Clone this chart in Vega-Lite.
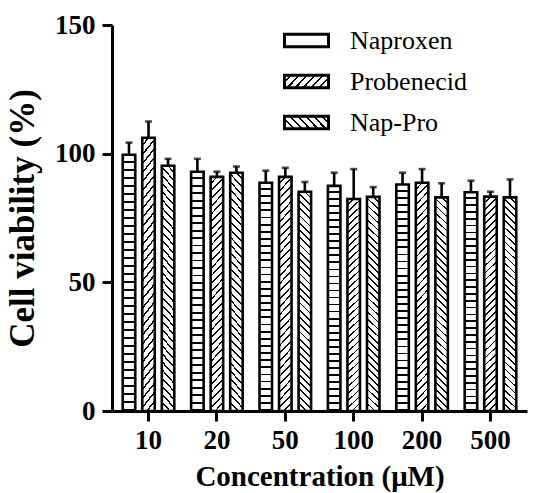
{
  "$schema": "https://vega.github.io/schema/vega-lite/v6.json",
  "width": 415,
  "height": 386,
  "autosize": {"type": "none"},
  "padding": {"left": 112, "top": 25, "right": 6, "bottom": 82},
  "background": "white",
  "config": {"view": {"stroke": null}, "font": "Liberation Serif"},
  "params": [
    {"name": "st", "value": [
      {"offset":0,"color":"#fff"},{"offset":0.0234375,"color":"#fff"},{"offset":0.0234375,"color":"#000"},{"offset":0.03125,"color":"#000"},
      {"offset":0.03125,"color":"#fff"},{"offset":0.0546875,"color":"#fff"},{"offset":0.0546875,"color":"#000"},{"offset":0.0625,"color":"#000"},
      {"offset":0.0625,"color":"#fff"},{"offset":0.0859375,"color":"#fff"},{"offset":0.0859375,"color":"#000"},{"offset":0.09375,"color":"#000"},
      {"offset":0.09375,"color":"#fff"},{"offset":0.1171875,"color":"#fff"},{"offset":0.1171875,"color":"#000"},{"offset":0.125,"color":"#000"},
      {"offset":0.125,"color":"#fff"},{"offset":0.1484375,"color":"#fff"},{"offset":0.1484375,"color":"#000"},{"offset":0.15625,"color":"#000"},
      {"offset":0.15625,"color":"#fff"},{"offset":0.1796875,"color":"#fff"},{"offset":0.1796875,"color":"#000"},{"offset":0.1875,"color":"#000"},
      {"offset":0.1875,"color":"#fff"},{"offset":0.2109375,"color":"#fff"},{"offset":0.2109375,"color":"#000"},{"offset":0.21875,"color":"#000"},
      {"offset":0.21875,"color":"#fff"},{"offset":0.2421875,"color":"#fff"},{"offset":0.2421875,"color":"#000"},{"offset":0.25,"color":"#000"},
      {"offset":0.25,"color":"#fff"},{"offset":0.2734375,"color":"#fff"},{"offset":0.2734375,"color":"#000"},{"offset":0.28125,"color":"#000"},
      {"offset":0.28125,"color":"#fff"},{"offset":0.3046875,"color":"#fff"},{"offset":0.3046875,"color":"#000"},{"offset":0.3125,"color":"#000"},
      {"offset":0.3125,"color":"#fff"},{"offset":0.3359375,"color":"#fff"},{"offset":0.3359375,"color":"#000"},{"offset":0.34375,"color":"#000"},
      {"offset":0.34375,"color":"#fff"},{"offset":0.3671875,"color":"#fff"},{"offset":0.3671875,"color":"#000"},{"offset":0.375,"color":"#000"},
      {"offset":0.375,"color":"#fff"},{"offset":0.3984375,"color":"#fff"},{"offset":0.3984375,"color":"#000"},{"offset":0.40625,"color":"#000"},
      {"offset":0.40625,"color":"#fff"},{"offset":0.4296875,"color":"#fff"},{"offset":0.4296875,"color":"#000"},{"offset":0.4375,"color":"#000"},
      {"offset":0.4375,"color":"#fff"},{"offset":0.4609375,"color":"#fff"},{"offset":0.4609375,"color":"#000"},{"offset":0.46875,"color":"#000"},
      {"offset":0.46875,"color":"#fff"},{"offset":0.4921875,"color":"#fff"},{"offset":0.4921875,"color":"#000"},{"offset":0.5,"color":"#000"},
      {"offset":0.5,"color":"#fff"},{"offset":0.5234375,"color":"#fff"},{"offset":0.5234375,"color":"#000"},{"offset":0.53125,"color":"#000"},
      {"offset":0.53125,"color":"#fff"},{"offset":0.5546875,"color":"#fff"},{"offset":0.5546875,"color":"#000"},{"offset":0.5625,"color":"#000"},
      {"offset":0.5625,"color":"#fff"},{"offset":0.5859375,"color":"#fff"},{"offset":0.5859375,"color":"#000"},{"offset":0.59375,"color":"#000"},
      {"offset":0.59375,"color":"#fff"},{"offset":0.6171875,"color":"#fff"},{"offset":0.6171875,"color":"#000"},{"offset":0.625,"color":"#000"},
      {"offset":0.625,"color":"#fff"},{"offset":0.6484375,"color":"#fff"},{"offset":0.6484375,"color":"#000"},{"offset":0.65625,"color":"#000"},
      {"offset":0.65625,"color":"#fff"},{"offset":0.6796875,"color":"#fff"},{"offset":0.6796875,"color":"#000"},{"offset":0.6875,"color":"#000"},
      {"offset":0.6875,"color":"#fff"},{"offset":0.7109375,"color":"#fff"},{"offset":0.7109375,"color":"#000"},{"offset":0.71875,"color":"#000"},
      {"offset":0.71875,"color":"#fff"},{"offset":0.7421875,"color":"#fff"},{"offset":0.7421875,"color":"#000"},{"offset":0.75,"color":"#000"},
      {"offset":0.75,"color":"#fff"},{"offset":0.7734375,"color":"#fff"},{"offset":0.7734375,"color":"#000"},{"offset":0.78125,"color":"#000"},
      {"offset":0.78125,"color":"#fff"},{"offset":0.8046875,"color":"#fff"},{"offset":0.8046875,"color":"#000"},{"offset":0.8125,"color":"#000"},
      {"offset":0.8125,"color":"#fff"},{"offset":0.8359375,"color":"#fff"},{"offset":0.8359375,"color":"#000"},{"offset":0.84375,"color":"#000"},
      {"offset":0.84375,"color":"#fff"},{"offset":0.8671875,"color":"#fff"},{"offset":0.8671875,"color":"#000"},{"offset":0.875,"color":"#000"},
      {"offset":0.875,"color":"#fff"},{"offset":0.8984375,"color":"#fff"},{"offset":0.8984375,"color":"#000"},{"offset":0.90625,"color":"#000"},
      {"offset":0.90625,"color":"#fff"},{"offset":0.9296875,"color":"#fff"},{"offset":0.9296875,"color":"#000"},{"offset":0.9375,"color":"#000"},
      {"offset":0.9375,"color":"#fff"},{"offset":0.9609375,"color":"#fff"},{"offset":0.9609375,"color":"#000"},{"offset":0.96875,"color":"#000"},
      {"offset":0.96875,"color":"#fff"},{"offset":0.9921875,"color":"#fff"},{"offset":0.9921875,"color":"#000"},{"offset":1,"color":"#000"}
    ]},
    {"name": "lst", "value": [
      {"offset":0,"color":"#fff"},{"offset":0.1,"color":"#fff"},{"offset":0.1,"color":"#000"},{"offset":0.142857,"color":"#000"},
      {"offset":0.142857,"color":"#fff"},{"offset":0.242857,"color":"#fff"},{"offset":0.242857,"color":"#000"},{"offset":0.285714,"color":"#000"},
      {"offset":0.285714,"color":"#fff"},{"offset":0.385714,"color":"#fff"},{"offset":0.385714,"color":"#000"},{"offset":0.428571,"color":"#000"},
      {"offset":0.428571,"color":"#fff"},{"offset":0.528571,"color":"#fff"},{"offset":0.528571,"color":"#000"},{"offset":0.571429,"color":"#000"},
      {"offset":0.571429,"color":"#fff"},{"offset":0.671429,"color":"#fff"},{"offset":0.671429,"color":"#000"},{"offset":0.714286,"color":"#000"},
      {"offset":0.714286,"color":"#fff"},{"offset":0.814286,"color":"#fff"},{"offset":0.814286,"color":"#000"},{"offset":0.857143,"color":"#000"},
      {"offset":0.857143,"color":"#fff"},{"offset":0.957143,"color":"#fff"},{"offset":0.957143,"color":"#000"},{"offset":1,"color":"#000"}
    ]}
  ],
  "data": {"values": [
    {"conc": "10", "series": "Naproxen", "value": 99.6, "upper": 104.3},
    {"conc": "10", "series": "Probenecid", "value": 106.2, "upper": 112.5},
    {"conc": "10", "series": "Nap-Pro", "value": 95.3, "upper": 98},
    {"conc": "20", "series": "Naproxen", "value": 93, "upper": 98},
    {"conc": "20", "series": "Probenecid", "value": 91, "upper": 93},
    {"conc": "20", "series": "Nap-Pro", "value": 92.6, "upper": 95},
    {"conc": "50", "series": "Naproxen", "value": 88.7, "upper": 93.4},
    {"conc": "50", "series": "Probenecid", "value": 91, "upper": 94.5},
    {"conc": "50", "series": "Nap-Pro", "value": 85.2, "upper": 89},
    {"conc": "100", "series": "Naproxen", "value": 87.5, "upper": 92.6},
    {"conc": "100", "series": "Probenecid", "value": 82.4, "upper": 94},
    {"conc": "100", "series": "Nap-Pro", "value": 83.2, "upper": 87},
    {"conc": "200", "series": "Naproxen", "value": 88, "upper": 92.6},
    {"conc": "200", "series": "Probenecid", "value": 88.7, "upper": 94},
    {"conc": "200", "series": "Nap-Pro", "value": 83, "upper": 88.5},
    {"conc": "500", "series": "Naproxen", "value": 85, "upper": 89.5},
    {"conc": "500", "series": "Probenecid", "value": 83.3, "upper": 85.2},
    {"conc": "500", "series": "Nap-Pro", "value": 83, "upper": 90}
  ]},
  "encoding": {
    "x": {
      "field": "conc", "type": "ordinal",
      "sort": ["10", "20", "50", "100", "200", "500"],
      "scale": {"paddingInner": 0.246, "paddingOuter": 0.157},
      "axis": {
        "title": "Concentration (μM)", "labelAngle": 0,
        "labelFont": "Liberation Serif", "labelFontWeight": "bold", "labelFontSize": 27, "labelColor": "black", "labelPadding": 6,
        "tickSize": 10, "tickWidth": 3, "tickColor": "black",
        "domainColor": "black", "domainWidth": 3,
        "titleFont": "Liberation Serif", "titleFontSize": 29, "titleFontWeight": "bold", "titleColor": "black", "titlePadding": 9
      }
    },
    "xOffset": {
      "field": "series", "type": "nominal",
      "sort": ["Naproxen", "Probenecid", "Nap-Pro"],
      "scale": {"paddingInner": 0.36, "paddingOuter": 0}
    }
  },
  "layer": [
    {
      "mark": {"type": "bar", "stroke": "black", "strokeWidth": 2.6},
      "encoding": {
        "y": {
          "field": "value", "type": "quantitative",
          "scale": {"domain": [0, 150]},
          "axis": {
            "title": "Cell viability (%)", "values": [0, 50, 100, 150], "grid": false,
            "labelFont": "Liberation Serif", "labelFontWeight": "bold", "labelFontSize": 27, "labelColor": "black", "labelPadding": 7,
            "tickSize": 10, "tickWidth": 3, "tickColor": "black",
            "domainColor": "black", "domainWidth": 3,
            "titleFont": "Liberation Serif", "titleFontSize": 35, "titleFontWeight": "bold", "titleColor": "black", "titlePadding": 14
          }
        },
        "fill": {
          "field": "series", "type": "nominal",
          "sort": ["Naproxen", "Probenecid", "Nap-Pro"],
          "scale": {"range": [
            {"expr": "{gradient: 'linear', x1: 0, y1: 0, x2: 0, y2: 1, stops: st}"},
            {"expr": "{gradient: 'linear', x1: 0, y1: 0, x2: 0.06, y2: 1.054, stops: st}"},
            {"expr": "{gradient: 'linear', x1: 1, y1: 0, x2: 0.94, y2: 1.054, stops: st}"}
          ]},
          "legend": null
        }
      }
    },
    {
      "mark": {"type": "rule", "stroke": "black", "strokeWidth": 2.6},
      "encoding": {
        "y": {"field": "value", "type": "quantitative", "scale": {"domain": [0, 150]}, "title": "Cell viability (%)"},
        "y2": {"field": "upper"}
      }
    },
    {
      "mark": {"type": "tick", "color": "black", "thickness": 2.6, "size": 7},
      "encoding": {
        "y": {"field": "upper", "type": "quantitative", "scale": {"domain": [0, 150]}, "title": "Cell viability (%)"}
      }
    },
    {
      "mark": {"type": "point", "filled": true, "size": 0, "opacity": 1, "shape": "M-1,-0.28H1V0.28H-1Z", "stroke": "black", "strokeWidth": 3},
      "encoding": {
        "y": {"field": "value", "type": "quantitative", "scale": {"domain": [0, 150]}, "title": "Cell viability (%)"},
        "fill": {
          "field": "series", "type": "nominal",
          "sort": ["Naproxen", "Probenecid", "Nap-Pro"],
          "scale": {"range": [
            "#fff",
            {"expr": "{gradient: 'linear', x1: 0, y1: 0, x2: 1.18, y2: 0.32, stops: lst}"},
            {"expr": "{gradient: 'linear', x1: 1, y1: 0, x2: -0.18, y2: 0.32, stops: lst}"}
          ]},
          "legend": {
            "title": null, "orient": "none", "legendX": 171, "legendY": -8,
            "symbolType": "M-1,-0.28H1V0.28H-1Z", "symbolSize": 1936,
            "symbolStrokeColor": "black", "symbolStrokeWidth": 3,
            "labelFont": "Liberation Serif", "labelFontSize": 26, "labelColor": "black",
            "labelOffset": 20, "rowPadding": 4
          }
        }
      }
    }
  ],
  "resolve": {"scale": {"fill": "independent"}}
}
